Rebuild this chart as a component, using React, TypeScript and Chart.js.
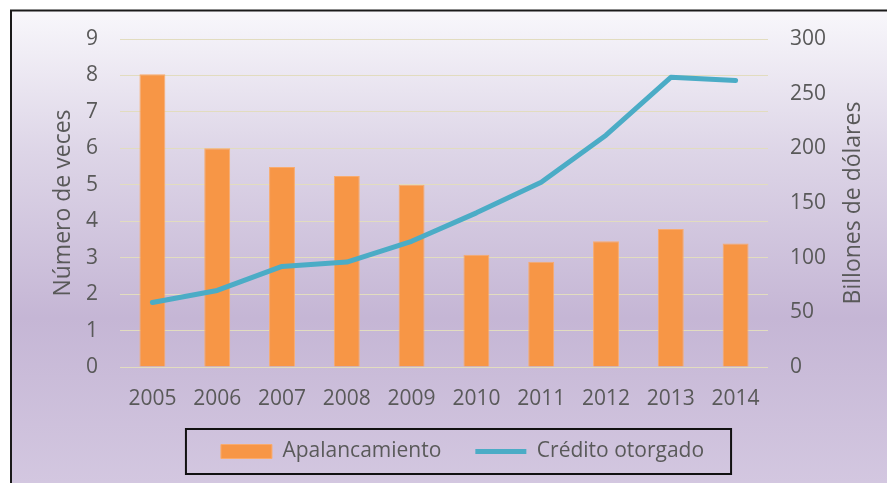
import React, { useEffect, useRef } from 'react';
import { Chart, registerables } from 'chart.js';

Chart.register(...registerables);

const categories = ['2005', '2006', '2007', '2008', '2009', '2010', '2011', '2012', '2013', '2014'];
const apalancamiento = [8.03, 6.0, 5.49, 5.24, 5.0, 3.08, 2.89, 3.45, 3.79, 3.39];
const credito = [59, 70, 92, 96, 115, 141, 169, 212, 265, 262];
const seriesNames = ['Apalancamiento', 'Crédito otorgado'];
const axisTitles = ['Número de veces', 'Billones de dólares'];

const W = 887;
const H = 483;
const FONT = "'Open Sans', sans-serif";
const TEXT = '#595959';

const backgroundPlugin = {
  id: 'bgFrame',
  beforeDraw(chart: any) {
    const { ctx } = chart;
    ctx.save();
    ctx.fillStyle = '#ffffff';
    ctx.fillRect(0, 0, W, H);
    const g = ctx.createLinearGradient(0, 11, 0, H);
    g.addColorStop(0, '#f8f7fb');
    g.addColorStop(0.3, '#ddd5e7');
    g.addColorStop(0.65, '#c5b6d5');
    g.addColorStop(1, '#d3c7e0');
    ctx.fillStyle = g;
    ctx.fillRect(12, 11, W - 12, H - 11);
    ctx.strokeStyle = '#1a1a1a';
    ctx.lineWidth = 2;
    ctx.beginPath();
    ctx.moveTo(11, H);
    ctx.lineTo(11, 10.5);
    ctx.lineTo(W, 10.5);
    ctx.stroke();
    ctx.restore();
  },
  afterDraw(chart: any) {
    const { ctx, chartArea } = chart;
    // right axis title, read bottom-to-top like the reference
    ctx.save();
    ctx.translate(853, (chartArea.top + chartArea.bottom) / 2);
    ctx.rotate(-Math.PI / 2);
    ctx.fillStyle = TEXT;
    ctx.font = `23px ${FONT}`;
    ctx.textAlign = 'center';
    ctx.textBaseline = 'middle';
    ctx.fillText(axisTitles[1], 0, 0);
    ctx.restore();

    const hb = chart.legend && chart.legend.legendHitBoxes;
    if (!hb || hb.length < 2) return;
    const first = hb[0];
    const last = hb[hb.length - 1];
    const cy = first.top + first.height / 2;
    const left = first.left - 35;
    const right = last.left + last.width + 27;
    ctx.save();
    ctx.strokeStyle = '#111111';
    ctx.lineWidth = 2;
    ctx.strokeRect(left, cy - 22.5, right - left, 45);
    ctx.restore();
  },
};

export default function App() {
  const ref = useRef<HTMLCanvasElement | null>(null);

  useEffect(() => {
    if (!ref.current) return;
    const chart = new Chart(ref.current, {
      type: 'bar',
      data: {
        labels: categories,
        datasets: [
          {
            type: 'bar',
            label: seriesNames[0],
            data: apalancamiento,
            backgroundColor: '#f79646',
            borderColor: '#f9ab6d',
            borderWidth: 1,
            barPercentage: 0.4,
            categoryPercentage: 1,
            yAxisID: 'y',
            order: 2,
            pointStyle: 'rect',
          } as any,
          {
            type: 'line',
            label: seriesNames[1],
            data: credito,
            borderColor: '#4bacc6',
            backgroundColor: '#4bacc6',
            borderWidth: 5,
            borderCapStyle: 'round',
            borderJoinStyle: 'round',
            pointRadius: 0,
            pointHoverRadius: 0,
            tension: 0,
            yAxisID: 'y1',
            order: 1,
            pointStyle: 'line',
          } as any,
        ],
      },
      options: {
        responsive: false,
        animation: false,
        devicePixelRatio: 1,
        layout: { padding: { left: 38, right: 0, top: 39, bottom: 11 } },
        plugins: {
          tooltip: { enabled: false },
          legend: {
            position: 'bottom',
            labels: {
              usePointStyle: true,
              pointStyleWidth: 51,
              boxHeight: 14,
              padding: 34,
              color: TEXT,
              font: { family: FONT, size: 21 },
              sort: (a: any, b: any) => a.datasetIndex - b.datasetIndex,
            },
          },
        },
        scales: {
          x: {
            grid: { display: false, drawTicks: false },
            border: { display: false },
            ticks: { color: TEXT, font: { family: FONT, size: 21 }, padding: 19, maxRotation: 0 },
            afterFit: (s: any) => { s.height = 40; },
          },
          y: {
            position: 'left',
            min: 0,
            max: 9,
            ticks: { stepSize: 1, color: TEXT, font: { family: FONT, size: 21 }, padding: 22 },
            grid: { color: '#e2dcbf', lineWidth: 1, drawTicks: false },
            border: { display: false },
            title: {
              display: true,
              text: axisTitles[0],
              color: TEXT,
              font: { family: FONT, size: 23 },
              padding: { top: 12, bottom: 0 },
            },
            afterFit: (s: any) => { s.width = 82; },
          },
          y1: {
            position: 'right',
            min: 0,
            max: 300,
            ticks: { stepSize: 50, color: TEXT, font: { family: FONT, size: 21 }, padding: 22 },
            grid: { display: false, drawTicks: false },
            border: { display: false },
            title: { display: false },
            afterFit: (s: any) => { s.width = 119; },
          },
        },
      },
      plugins: [backgroundPlugin],
    } as any);
    return () => chart.destroy();
  }, []);

  return (
    <div style={{ position: 'absolute', left: 0, top: 0, width: W, height: H }}>
      <canvas ref={ref} width={W} height={H} style={{ display: 'block', width: W, height: H }} />
    </div>
  );
}
